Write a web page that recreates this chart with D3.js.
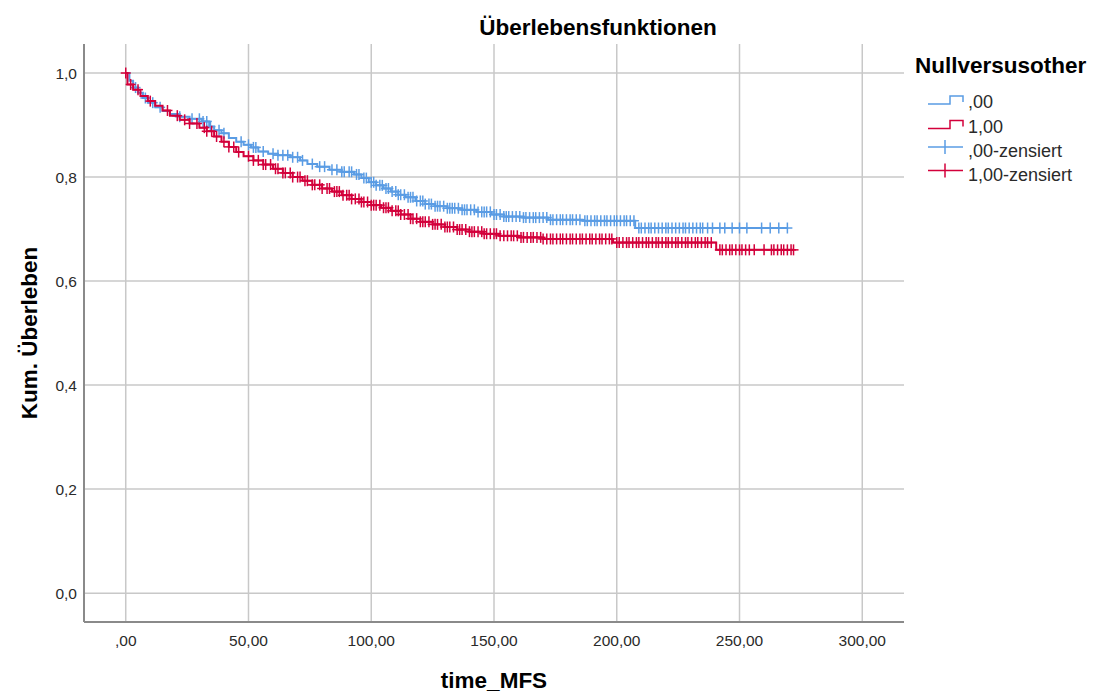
<!DOCTYPE html>
<html>
<head>
<meta charset="utf-8">
<script src="https://cdn.jsdelivr.net/npm/d3@7"></script>
<style>
  body { margin: 0; background: #fff; }
  svg { font-family: "Liberation Sans", Arial, sans-serif; }
  .tick-label { font-size: 15.5px; fill: #2a2a2a; }
  .title { font-size: 22.5px; font-weight: bold; fill: #000; }
  .label { font-size: 22.5px; font-weight: bold; fill: #000; }
  .legend-title { font-size: 22.5px; font-weight: bold; fill: #000; }
  .legend-item { font-size: 18px; fill: #2a2a2a; }
</style>
</head>
<body>
<svg width="1099" height="695"></svg>
<script>
// step points of the Kaplan-Meier curves: [time, survival]
const steps00 = [
  [0, 1.0], [1.5, 0.985], [3, 0.972], [5, 0.962], [7, 0.952], [9, 0.943], [12, 0.934],
  [15, 0.927], [18, 0.921], [22, 0.916], [26, 0.912], [31, 0.907], [34, 0.897], [36, 0.89],
  [39, 0.884], [42, 0.875], [45, 0.868], [48, 0.862], [51, 0.857], [54, 0.849], [58, 0.845],
  [62, 0.842], [67, 0.838], [71, 0.832], [74, 0.825], [78, 0.82], [83, 0.814], [88, 0.81],
  [93, 0.805], [96, 0.798], [99, 0.79], [102, 0.784], [105, 0.778], [108, 0.772], [111, 0.766],
  [114, 0.761], [118, 0.754], [122, 0.748], [126, 0.744], [131, 0.740], [137, 0.737],
  [143, 0.733], [149, 0.728], [154, 0.724], [162, 0.722], [172, 0.718], [186, 0.716],
  [207.5, 0.702]
];
const end00 = 269.5;

const steps100 = [
  [0, 1.0], [0.7, 0.978], [3, 0.968], [6, 0.956], [9, 0.946], [12, 0.937], [15, 0.928],
  [18, 0.918], [22, 0.91], [26, 0.903], [30, 0.895], [33, 0.888], [36, 0.878], [39, 0.868],
  [42, 0.858], [45, 0.848], [48, 0.84], [52, 0.832], [56, 0.824], [60, 0.816], [64, 0.808],
  [68, 0.8], [72, 0.793], [76, 0.785], [80, 0.778], [84, 0.772], [88, 0.765], [92, 0.758],
  [96, 0.752], [100, 0.746], [104, 0.741], [108, 0.735], [112, 0.728], [116, 0.72],
  [120, 0.714], [125, 0.709], [130, 0.704], [135, 0.699], [140, 0.695], [146, 0.691],
  [152, 0.687], [160, 0.684], [170, 0.681], [198.5, 0.674], [240.5, 0.66]
];
const end100 = 272;

// censoring times
const censor00 = [4, 8, 11, 14, 22, 27, 30, 31.5, 33, 34.5, 38, 40, 47, 50, 52, 53, 56, 60, 62,
  64, 66, 68, 70, 72, 76, 79, 81, 84, 86, 88, 89, 91, 92, 94, 95, 97, 98, 100, 101, 102, 103.5,
  104.5, 106, 107, 108.5, 110, 111, 112, 113.5, 115, 116, 117, 118.5, 120, 121, 122, 123.5,
  124.5, 126, 127, 128, 129.5, 131, 132, 133, 134, 135.5, 137, 138, 139, 140.5, 142, 143.5,
  145, 146, 147, 148.5, 150, 151, 152.5, 154, 155, 156, 157.5, 159, 160.5, 162, 163, 164.5,
  166, 167, 168.5, 170, 171.5, 173, 174, 175.5, 177, 178, 179.5, 181, 182, 183.5, 185, 187,
  188, 189.5, 191, 192, 193.5, 195, 196, 197.5, 199, 200, 201.5, 203, 204, 205.5, 207, 209,
  210, 211.5, 213, 214, 215.5, 217, 218.5, 220, 221, 222.5, 224, 225.5, 227, 228, 229.5, 231,
  232.5, 234, 235, 237, 239, 242, 244, 247, 250, 253, 259, 262.5, 266, 269.5];
const censor100 = [0, 2, 5, 10, 17, 21, 24, 26, 29, 32, 33, 35, 37, 40, 42, 44, 46, 50, 52, 54,
  56, 57, 59, 61, 62, 64, 65, 67, 68, 70, 71, 73, 74, 76, 77, 79, 80, 82, 83, 85, 86, 87, 88.5,
  90, 91, 92, 93.5, 95, 96, 97, 98.5, 100, 101, 102, 103.5, 105, 106, 107, 108.5, 110, 111,
  112, 113.5, 115, 116, 117, 118.5, 120, 121, 122, 123.5, 125, 126, 127, 128.5, 130, 131, 132,
  133.5, 135, 136, 137, 138.5, 140, 141, 142, 143.5, 145, 146, 147, 148.5, 150, 151, 152.5,
  154, 155.5, 157, 158, 159.5, 161, 162, 163.5, 165, 166, 167.5, 169, 170, 171.5, 173, 174,
  175.5, 177, 178, 179.5, 181, 182, 183.5, 185, 186, 187.5, 189, 190, 191.5, 193, 194, 195.5,
  197, 198, 200, 201, 202.5, 204, 205, 206.5, 208, 209, 210.5, 212, 213, 214.5, 216, 217,
  218.5, 220, 221, 222.5, 224, 225, 226.5, 228, 229, 230.5, 232, 233, 234.5, 236, 237, 238.5,
  242, 243, 244.5, 246, 247, 248.5, 250, 251, 252.5, 254, 256, 260, 263, 264, 265.5, 267, 268,
  269.5, 271, 272];

const xTicks = [0, 50, 100, 150, 200, 250, 300];
const xTickLabels = [',00', '50,00', '100,00', '150,00', '200,00', '250,00', '300,00'];
const yTicks = [0, 0.2, 0.4, 0.6, 0.8, 1.0];
const yTickLabels = ['0,0', '0,2', '0,4', '0,6', '0,8', '1,0'];

const groups = ['0', '1'];
const groupLabels = [',00', '1,00'];
const censorLabels = [',00-zensiert', '1,00-zensiert'];
const colors = ['#5a9ce4', '#d3003b'];

const svg = d3.select('svg');
const plotLeft = 84, plotRight = 904, plotTop = 44, plotBottom = 622;

const xScale = d3.scaleLinear().domain([-17, 317]).range([plotLeft, plotRight]);
const yScale = d3.scaleLinear().domain([-0.0555, 1.0558]).range([plotBottom, plotTop]);

// grid
const grid = svg.append('g');
grid.selectAll('.vg').data(xTicks).enter().append('line')
  .attr('x1', d => xScale(d)).attr('x2', d => xScale(d))
  .attr('y1', plotTop).attr('y2', plotBottom)
  .attr('stroke', '#c8c8c8').attr('stroke-width', 1.5);
grid.selectAll('.hg').data(yTicks).enter().append('line')
  .attr('x1', plotLeft).attr('x2', plotRight)
  .attr('y1', d => yScale(d)).attr('y2', d => yScale(d))
  .attr('stroke', '#c8c8c8').attr('stroke-width', 1.5);

// axis lines
svg.append('line').attr('x1', plotLeft).attr('x2', plotLeft).attr('y1', plotTop).attr('y2', plotBottom)
  .attr('stroke', '#8a8a8a').attr('stroke-width', 2);
svg.append('line').attr('x1', plotLeft).attr('x2', plotRight).attr('y1', plotBottom).attr('y2', plotBottom)
  .attr('stroke', '#8a8a8a').attr('stroke-width', 2);

// tick labels
svg.selectAll('.xt').data(xTicks).enter().append('text')
  .attr('class', 'tick-label')
  .attr('x', d => xScale(d)).attr('y', 646)
  .attr('text-anchor', 'middle')
  .text((d, i) => xTickLabels[i]);
svg.selectAll('.yt').data(yTicks).enter().append('text')
  .attr('class', 'tick-label')
  .attr('x', 77).attr('y', d => yScale(d) + 6)
  .attr('text-anchor', 'end')
  .text((d, i) => yTickLabels[i]);

function survAt(steps, t) {
  let s = steps[0][1];
  for (const p of steps) { if (p[0] <= t) s = p[1]; }
  return s;
}

const line = d3.line().curve(d3.curveStepAfter)
  .x(d => xScale(d[0])).y(d => yScale(d[1]));

const series = [
  { steps: steps00, end: end00, censor: censor00, color: colors[0] },
  { steps: steps100, end: end100, censor: censor100, color: colors[1] }
];

series.forEach(s => {
  const pts = s.steps.concat([[s.end, s.steps[s.steps.length - 1][1]]]);
  svg.append('path')
    .attr('d', line(pts))
    .attr('fill', 'none')
    .attr('stroke', s.color)
    .attr('stroke-width', 2);

  const marks = svg.append('g').selectAll('g')
    .data(s.censor).enter().append('g')
    .attr('transform', t => `translate(${xScale(t)},${yScale(survAt(s.steps, t))})`);
  marks.append('line').attr('x1', -5).attr('x2', 5).attr('y1', 0).attr('y2', 0)
    .attr('stroke', s.color).attr('stroke-width', 1.5);
  marks.append('line').attr('x1', 0).attr('x2', 0).attr('y1', -5.5).attr('y2', 5.5)
    .attr('stroke', s.color).attr('stroke-width', 1.5);
});

// titles
svg.append('text').attr('class', 'title')
  .attr('x', 598).attr('y', 35).attr('text-anchor', 'middle')
  .text('Überlebensfunktionen');
svg.append('text').attr('class', 'label')
  .attr('x', 494).attr('y', 688).attr('text-anchor', 'middle')
  .text('time_MFS');
svg.append('text').attr('class', 'label')
  .attr('transform', 'translate(37, 333) rotate(-90)')
  .attr('text-anchor', 'middle')
  .text('Kum. Überleben');

// legend
const legend = svg.append('g');
legend.append('text').attr('class', 'legend-title')
  .attr('x', 915).attr('y', 73).text('Nullversusother');

groups.forEach((g, i) => {
  const y = 100 + i * 24.5;
  legend.append('path')
    .attr('d', `M928,${y + 4}H950V${y - 4}H963V${y + 2}`)
    .attr('fill', 'none').attr('stroke', colors[i]).attr('stroke-width', 1.5);
  legend.append('text').attr('class', 'legend-item')
    .attr('x', 968).attr('y', y + 8).text(groupLabels[i]);
});
groups.forEach((g, i) => {
  const y = 147 + i * 23.5;
  legend.append('line').attr('x1', 928).attr('x2', 963).attr('y1', y).attr('y2', y)
    .attr('stroke', colors[i]).attr('stroke-width', 1.5);
  legend.append('line').attr('x1', 945).attr('x2', 945).attr('y1', y - 7).attr('y2', y + 7)
    .attr('stroke', colors[i]).attr('stroke-width', 1.5);
  legend.append('text').attr('class', 'legend-item')
    .attr('x', 968).attr('y', y + 10).text(censorLabels[i]);
});
</script>
</body>
</html>
